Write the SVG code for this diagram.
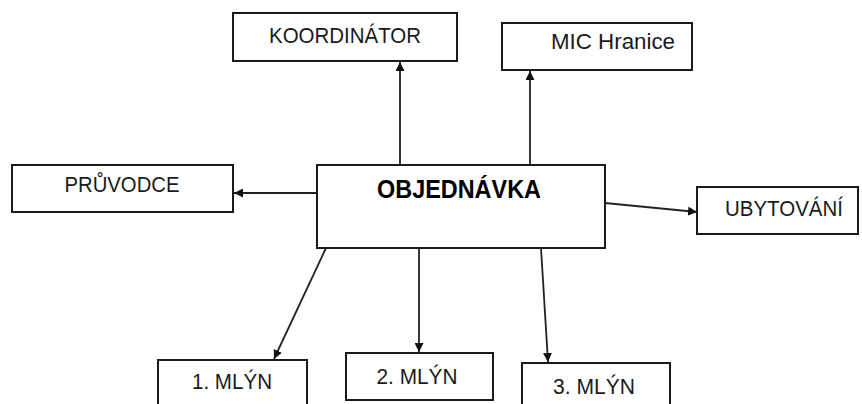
<svg xmlns="http://www.w3.org/2000/svg" width="862" height="404" viewBox="0 0 862 404">
<style>
.box{fill:#fff;stroke:#1a1a1a;stroke-width:2}
.t{font-family:"Liberation Sans",Arial,sans-serif;font-size:22px;fill:#1a1a1a;text-anchor:middle}
.tb{font-family:"Liberation Sans",Arial,sans-serif;font-size:25px;font-weight:bold;fill:#000;text-anchor:middle}
.c{stroke:#222;stroke-width:1.8;fill:none;marker-end:url(#ah)}
</style>
<defs>
<marker id="ah" viewBox="0 0 10 10" refX="10" refY="5" markerWidth="9" markerHeight="9" markerUnits="userSpaceOnUse" orient="auto">
<path d="M0,0 L10,5 L0,10 z" fill="#111"/>
</marker>
</defs>
<rect width="862" height="404" fill="#fff"/>
<g id="connectors">
<line class="c" x1="400" y1="165" x2="400" y2="62"/>
<line class="c" x1="530" y1="173" x2="530" y2="71"/>
<line class="c" x1="317" y1="193" x2="234" y2="193"/>
<path class="c" d="M605,203 L697,212"/>
<line class="c" x1="326" y1="248" x2="274" y2="359"/>
<line class="c" x1="419" y1="248" x2="419" y2="352"/>
<line class="c" x1="541" y1="248" x2="548" y2="362"/>
</g>
<g id="koordinator">
<rect class="box" x="233" y="13" width="224" height="48"/>
<text class="t" x="345" y="43" textLength="152" lengthAdjust="spacingAndGlyphs">KOORDINÁTOR</text>
</g>
<g id="mic">
<rect class="box" x="502" y="23" width="190" height="47"/>
<text class="t" x="613" y="49" textLength="124" lengthAdjust="spacingAndGlyphs">MIC Hranice</text>
</g>
<g id="pruvodce">
<rect class="box" x="12" y="165" width="221" height="47"/>
<text class="t" x="122" y="192" textLength="115" lengthAdjust="spacingAndGlyphs">PRŮVODCE</text>
</g>
<g id="objednavka">
<rect class="box" x="317" y="165" width="288" height="83"/>
<text class="tb" x="459" y="198" textLength="164" lengthAdjust="spacingAndGlyphs">OBJEDNÁVKA</text>
</g>
<g id="ubytovani">
<rect class="box" x="697" y="187" width="161" height="47"/>
<text class="t" x="784" y="216" textLength="118" lengthAdjust="spacingAndGlyphs">UBYTOVÁNÍ</text>
</g>
<g id="mlyn1">
<rect class="box" x="158" y="360" width="149" height="50"/>
<text class="t" x="232" y="389" textLength="80" lengthAdjust="spacingAndGlyphs">1. MLÝN</text>
</g>
<g id="mlyn2">
<rect class="box" x="346" y="353" width="147" height="47"/>
<text class="t" x="417" y="384" textLength="81" lengthAdjust="spacingAndGlyphs">2. MLÝN</text>
</g>
<g id="mlyn3">
<rect class="box" x="522" y="363" width="148" height="50"/>
<text class="t" x="594" y="394" textLength="82" lengthAdjust="spacingAndGlyphs">3. MLÝN</text>
</g>
</svg>
